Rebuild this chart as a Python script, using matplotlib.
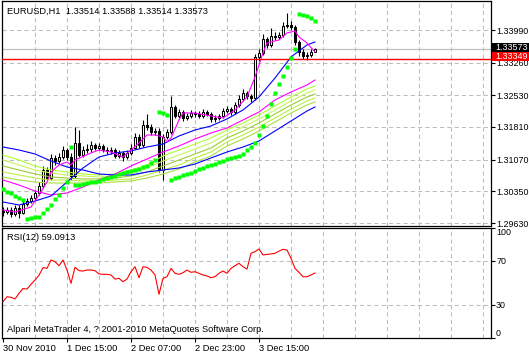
import matplotlib
matplotlib.use('Agg')
import matplotlib.pyplot as plt
from matplotlib.patches import Rectangle
import numpy as np

plt.rcParams['font.family'] = ['Liberation Sans', 'DejaVu Sans']
FS = 6.7
FS_AX = 6.4

# ---------------- data ----------------
opens = [1.29910, 1.29886, 1.29931, 1.29840, 1.29976, 1.29863, 1.30066, 1.30134, 1.30202, 1.30315,
         1.30473, 1.30835, 1.30654, 1.31106, 1.31039, 1.31129, 1.31287, 1.31129, 1.30699, 1.31446,
         1.31174, 1.31287, 1.31310, 1.31400, 1.31333, 1.31378, 1.31287, 1.31265, 1.31287, 1.31152,
         1.31220, 1.31129, 1.31220, 1.31333, 1.31581, 1.31400, 1.31853, 1.31807, 1.31694, 1.31717,
         1.30835, 1.31581, 1.31694, 1.32260, 1.32056, 1.32147, 1.32011, 1.32056, 1.32124, 1.32101,
         1.32056, 1.32147, 1.32101, 1.31988, 1.32011, 1.32056, 1.32169, 1.32214, 1.32147, 1.32305,
         1.32440, 1.32576, 1.32508, 1.32463, 1.33390, 1.33481, 1.33797, 1.33661, 1.33865, 1.33842,
         1.33888, 1.34091, 1.34114, 1.34068, 1.33729, 1.33503, 1.33413, 1.33435, 1.33514]
closes = [1.29886, 1.29931, 1.29840, 1.29976, 1.29863, 1.30066, 1.30134, 1.30202, 1.30315, 1.30473,
          1.30835, 1.30654, 1.31106, 1.31039, 1.31129, 1.31287, 1.31129, 1.30699, 1.31446, 1.31174,
          1.31287, 1.31310, 1.31400, 1.31333, 1.31378, 1.31287, 1.31265, 1.31287, 1.31152, 1.31220,
          1.31129, 1.31220, 1.31333, 1.31581, 1.31400, 1.31853, 1.31807, 1.31694, 1.31717, 1.30835,
          1.31581, 1.31694, 1.32260, 1.32056, 1.32147, 1.32011, 1.32056, 1.32124, 1.32101, 1.32056,
          1.32147, 1.32101, 1.31988, 1.32011, 1.32056, 1.32169, 1.32214, 1.32147, 1.32305, 1.32440,
          1.32576, 1.32508, 1.32463, 1.33390, 1.33481, 1.33797, 1.33661, 1.33865, 1.33842, 1.33888,
          1.34091, 1.34114, 1.34068, 1.33729, 1.33503, 1.33413, 1.33435, 1.33503, 1.33573]
highs = [1.29990, 1.29990, 1.29990, 1.30040, 1.30040, 1.30130, 1.30200, 1.30270, 1.30380, 1.30560,
         1.30930, 1.30900, 1.31200, 1.31180, 1.31230, 1.31380, 1.31330, 1.31220, 1.31808, 1.31740,
         1.31380, 1.31420, 1.31480, 1.31450, 1.31440, 1.31420, 1.31350, 1.31360, 1.31330, 1.31290,
         1.31260, 1.31290, 1.31420, 1.31680, 1.31650, 1.31966, 1.32100, 1.31880, 1.31790, 1.31780,
         1.31650, 1.31760, 1.32509, 1.32300, 1.32220, 1.32200, 1.32130, 1.32190, 1.32180, 1.32160,
         1.32220, 1.32200, 1.32150, 1.32070, 1.32110, 1.32240, 1.32290, 1.32270, 1.32380, 1.32530,
         1.32660, 1.32630, 1.32560, 1.33450, 1.33560, 1.33900, 1.33850, 1.34046, 1.33950, 1.33960,
         1.34180, 1.34385, 1.34200, 1.34120, 1.33780, 1.33560, 1.33500, 1.33560, 1.33588]
lows = [1.29800, 1.29840, 1.29770, 1.29800, 1.29750, 1.29840, 1.30020, 1.30090, 1.30150, 1.30270,
        1.30420, 1.30600, 1.30600, 1.30950, 1.30990, 1.31080, 1.31060, 1.30609, 1.30650, 1.31130,
        1.31120, 1.31230, 1.31250, 1.31280, 1.31280, 1.31240, 1.31200, 1.31200, 1.31100, 1.31100,
        1.31030, 1.31080, 1.31170, 1.31300, 1.31330, 1.31350, 1.31740, 1.31630, 1.31630, 1.30790,
        1.30609, 1.31530, 1.31650, 1.32000, 1.32000, 1.31950, 1.31960, 1.32010, 1.32040, 1.32000,
        1.32010, 1.32050, 1.31930, 1.31930, 1.31960, 1.32010, 1.32120, 1.32080, 1.32100, 1.32260,
        1.32400, 1.32450, 1.32380, 1.32418, 1.33300, 1.33430, 1.33600, 1.33620, 1.33780, 1.33790,
        1.33850, 1.34040, 1.34000, 1.33662, 1.33420, 1.33350, 1.33322, 1.33380, 1.33514]

sar = [1.30406, 1.30338, 1.30315, 1.30247, 1.30202, 1.30157, 1.29727, 1.29750, 1.29773, 1.29773,
       1.29863, 1.29954, 1.30044, 1.30180, 1.30270, 1.30428, 1.30564, 1.31355, 1.30496, 1.30496,
       1.30519, 1.30541, 1.30564, 1.30564, 1.30587, 1.30632, 1.30654, 1.30677, 1.30700, 1.30745,
       1.30768, 1.30790, 1.30813, 1.30835, 1.30858, 1.30903, 1.30926, 1.30994, 1.31061, 1.32147,
       1.32124, 1.32079, 1.30609, 1.30654, 1.30677, 1.30722, 1.30745, 1.30768, 1.30813, 1.30858,
       1.30881, 1.30926, 1.30948, 1.30971, 1.31016, 1.31039, 1.31084, 1.31107, 1.31129, 1.31152,
       1.31197, 1.31287, 1.31355, 1.31446, 1.31627, 1.31830, 1.32056, 1.32328, 1.32576, 1.32780,
       1.32961, 1.33164, 1.33368, 1.33571, 1.34362, 1.34340, 1.34317, 1.34272, 1.34204]

# fast magenta MA, read at these bar indexes
ma_fast_idx = [0, 3, 7, 9, 11, 12, 14, 16, 17, 18, 22, 24, 27, 30, 32, 34, 36, 38, 40, 41, 42, 44,
               45, 48, 52, 55, 58, 61, 63, 65, 66, 69, 71, 73, 74, 76, 78]
ma_fast = [1.29931, 1.29886, 1.29999, 1.30270, 1.30564, 1.30790, 1.30948, 1.31016, 1.30948, 1.31061,
           1.31220, 1.31287, 1.31242, 1.31129, 1.31287, 1.31446, 1.31627, 1.31627, 1.31581, 1.31468,
           1.31559, 1.31966, 1.32124, 1.32124, 1.32056, 1.32011, 1.32192, 1.32486, 1.32938, 1.33481,
           1.33707, 1.33775, 1.33933, 1.33978, 1.33842, 1.33707, 1.33503]

# other averages read every 4 bars
ma_idx = [0, 4, 8, 12, 16, 20, 24, 28, 32, 36, 40, 44, 48, 52, 56, 60, 64, 68, 72, 76, 78]
blue_fast = [1.30112, 1.30044, 1.30134, 1.30247, 1.30564, 1.30881, 1.31129, 1.31220, 1.31265, 1.31355,
             1.31423, 1.31604, 1.31740, 1.31830, 1.31989, 1.32192, 1.32486, 1.32915, 1.33390, 1.33662,
             1.33729]
blue_slow = [1.31355, 1.31287, 1.31197, 1.31039, 1.30903, 1.30835, 1.30745, 1.30722, 1.30722, 1.30790,
             1.30835, 1.30881, 1.30971, 1.31107, 1.31242, 1.31355, 1.31491, 1.31717, 1.31943, 1.32169,
             1.32260]
magenta_slow = [1.30609, 1.30496, 1.30361, 1.30270, 1.30315, 1.30451, 1.30609, 1.30745, 1.30926, 1.31084,
                1.31242, 1.31378, 1.31536, 1.31672, 1.31785, 1.31966, 1.32147, 1.32418, 1.32599, 1.32757,
                1.32870]
green1 = [1.31174, 1.31061, 1.30926, 1.30835, 1.30790, 1.30745, 1.30722, 1.30745, 1.30835, 1.30948,
          1.31152, 1.31287, 1.31423, 1.31559, 1.31740, 1.31898, 1.32079, 1.32282, 1.32486, 1.32667,
          1.32735]
green2 = [1.31061, 1.30948, 1.30835, 1.30768, 1.30722, 1.30700, 1.30677, 1.30700, 1.30768, 1.30881,
          1.31039, 1.31174, 1.31310, 1.31446, 1.31649, 1.31808, 1.31989, 1.32192, 1.32396, 1.32576,
          1.32644]
green3 = [1.30926, 1.30835, 1.30745, 1.30677, 1.30654, 1.30632, 1.30632, 1.30654, 1.30700, 1.30790,
          1.30926, 1.31061, 1.31197, 1.31333, 1.31559, 1.31717, 1.31898, 1.32101, 1.32305, 1.32486,
          1.32554]
green4 = [1.30790, 1.30722, 1.30654, 1.30609, 1.30609, 1.30587, 1.30587, 1.30609, 1.30632, 1.30722,
          1.30835, 1.30948, 1.31107, 1.31242, 1.31468, 1.31627, 1.31808, 1.32011, 1.32215, 1.32396,
          1.32463]
green5 = [1.30677, 1.30609, 1.30564, 1.30541, 1.30541, 1.30541, 1.30541, 1.30564, 1.30587, 1.30654,
          1.30745, 1.30858, 1.31016, 1.31152, 1.31378, 1.31536, 1.31717, 1.31921, 1.32124, 1.32305,
          1.32373]

rsi = [33, 37.5, 37, 35.5, 40.6, 45, 44.5, 48.8, 52.7, 57,
       64, 63.3, 70.9, 69.4, 65.7, 70.9, 61.8, 49.7, 64.3, 61.2,
       60.9, 61.8, 61.8, 61.2, 58.2, 57.9, 57.9, 57.3, 53.6, 54.2,
       51.2, 53.6, 60.3, 64.8, 54.8, 64.8, 64.2, 61.8, 57.3, 39.7,
       54.2, 55.7, 63.3, 58.8, 57.9, 59.4, 61.8, 59.7, 60.3, 58.8,
       57.3, 56.4, 54.8, 55.7, 58.8, 60.9, 58.8, 63.3, 65.7, 67.9,
       64.8, 62.7, 77, 78.5, 80.9, 75.5, 76, 76.4, 77, 79,
       80.6, 80, 72.5, 63.3, 59.7, 55.7, 55.7, 57.3, 59.09]

price_ticks = [1.33990, 1.33260, 1.32530, 1.31810, 1.31070, 1.30350, 1.29630]
price_labels = ['1.33990', '1.33260', '1.32530', '1.31810', '1.31070', '1.30350', '1.29630']
rsi_ticks = [0, 30, 70, 100]
rsi_labels = ['0', '30', '70', '100']
time_idx = [0, 16, 32, 48, 64]
time_labels = ['30 Nov 2010', '1 Dec 15:00', '2 Dec 07:00', '2 Dec 23:00', '3 Dec 15:00']
bid = 1.33573
line_red = 1.33349
title = 'EURUSD,H1  1.33514 1.33588 1.33514 1.33573'
rsi_title = 'RSI(12) 59.0913'
copyright_text = 'Alpari MetaTrader 4, ? 2001-2010 MetaQuotes Software Corp.'

# ---------------- figure ----------------
W, H = 529, 355
fig = plt.figure(figsize=(W / 100, H / 100), dpi=100)
fig.patch.set_facecolor('white')


def px_axes(l, t, r, b):
    return fig.add_axes([l / W, 1 - b / H, (r - l) / W, (b - t) / H])


ax = px_axes(2, 1, 491, 226)
ax2 = px_axes(2, 228, 491, 338)

XMIN, XMAX = -0.25, 122.0
GRID = dict(color='#BDBDBD', lw=0.75, ls=(0, (4, 3)), zorder=0.5)

for a in (ax, ax2):
    a.set_xlim(XMIN, XMAX)
    a.set_facecolor('white')
    for s in a.spines.values():
        s.set_color('black')
        s.set_linewidth(0.9)
    for xv in np.arange(8, 121, 8):
        a.axvline(xv, **GRID)

# main panel
ax.set_ylim(1.29569, 1.34656)
for pv in price_ticks:
    ax.axhline(pv, **GRID)

x = np.arange(len(closes))
o = np.array(opens)
c = np.array(closes)
lo_b = np.minimum(o, c)
hgt = np.maximum(np.abs(c - o), 0.00002)
face = ['white' if cc >= oo else 'black' for oo, cc in zip(o, c)]
ax.vlines(x, lows, highs, color='black', lw=0.8, zorder=2)
ax.bar(x, hgt, bottom=lo_b, width=0.5, color=face, edgecolor='black', linewidth=0.75, zorder=2.5)

ax.axhline(bid, color='#C0C0C0', lw=0.9, zorder=1.5)
ax.axhline(line_red, color='#FF0000', lw=1.0, zorder=3.5)

green_cols = ['#ADFF2F', '#C5F55A', '#9ACD32', '#B8F040', '#A8E040']
for g, col in zip([green1, green2, green3, green4, green5], green_cols):
    ax.plot(ma_idx, g, color=col, lw=0.8, zorder=3)
ax.plot(ma_idx, magenta_slow, color='#FF00FF', lw=0.8, zorder=3)
ax.plot(ma_idx, blue_slow, color='#0000FF', lw=0.8, zorder=3)
ax.plot(ma_idx, blue_fast, color='#0000FF', lw=0.8, zorder=3)
ax.plot(ma_fast_idx, ma_fast, color='#FF00FF', lw=0.8, zorder=3)
ax.plot(x, sar, 's', color='#00FF00', ms=3.0, mec='none', zorder=4)

ax.yaxis.tick_right()
ax.set_yticks(price_ticks)
ax.set_yticklabels(price_labels)
ax.tick_params(axis='y', direction='out', length=3, width=0.8, pad=0.6, labelsize=FS_AX, colors='black')
ax.tick_params(axis='x', bottom=False, labelbottom=False)

# RSI panel
ax2.set_ylim(0, 100)
for rv in (30, 70):
    ax2.axhline(rv, **GRID)
ax2.plot(x, rsi, color='#FF0000', lw=0.8, zorder=3)
ax2.yaxis.tick_right()
ax2.set_yticks(rsi_ticks)
ax2.set_yticklabels(rsi_labels)
ax2.tick_params(axis='y', direction='out', length=3, width=0.8, pad=0.6, labelsize=FS_AX)
for lbl in ax2.get_yticklabels():
    if lbl.get_text() == '100':
        lbl.set_va('top')
    elif lbl.get_text() == '0':
        lbl.set_va('bottom')
ax2.set_xticks(time_idx)
ax2.set_xticklabels(time_labels)
ax2.tick_params(axis='x', direction='out', length=3, width=0.8, pad=1.0, labelsize=FS)
for lbl in ax2.get_xticklabels():
    lbl.set_ha('left')

# texts
fig.text(7 / W, 1 - 11 / H, title, fontsize=FS, va='center', ha='left')
fig.text(7 / W, 1 - 238 / H, rsi_title, fontsize=FS, va='center', ha='left')
fig.text(7 / W, 1 - 330 / H, copyright_text, fontsize=FS, va='center', ha='left')

# price tags
fig.add_artist(Rectangle((492 / W, 1 - 52 / H), 37 / W, 9 / H, transform=fig.transFigure,
                         facecolor='black', edgecolor='none', zorder=10))
fig.add_artist(Rectangle((492 / W, 1 - 61 / H), 37 / W, 9 / H, transform=fig.transFigure,
                         facecolor='#FF0000', edgecolor='none', zorder=10))
fig.text(495 / W, 1 - 47.5 / H, f'{bid:.5f}', color='white', fontsize=FS_AX, va='center', ha='left', zorder=11)
fig.text(495 / W, 1 - 56.5 / H, f'{line_red:.5f}', color='white', fontsize=FS_AX, va='center', ha='left', zorder=11)

fig.savefig('out.png', dpi=100, facecolor='white')
